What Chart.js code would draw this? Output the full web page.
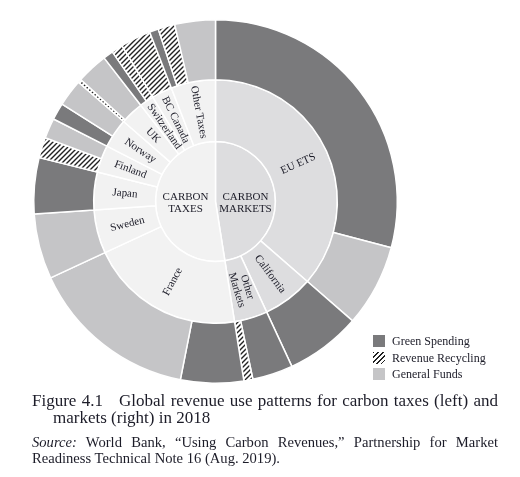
<!DOCTYPE html>
<html>
<head>
<meta charset="utf-8">
<title>Global revenue use patterns 2018</title>
<script src="https://cdn.jsdelivr.net/npm/chart.js@4.4.1/dist/chart.umd.min.js"></script>
<style>
  body { margin: 0; background: #fff; }
  #wrap { position: relative; width: 520px; height: 477px; overflow: hidden;
          font-family: "Liberation Serif", "DejaVu Serif", serif; color: #1c1c28; }
  #chart { position: absolute; left: 0; top: 0; }
  .legend { position: absolute; left: 373px; top: 335px; font-size: 12px; }
  .legend div { height: 16.5px; line-height: 12px; white-space: nowrap; }
  .legend span.sw { display: inline-block; width: 12px; height: 12px; vertical-align: top; margin-right: 7px; }
  .caption { position: absolute; left: 32px; width: 466px; font-size: 17px; line-height: 16.5px; }
  .caption .l1 { text-align: justify; text-align-last: justify; white-space: nowrap; }
  .caption .l2 { padding-left: 21px; }
  .source { position: absolute; left: 32px; width: 466px; top: 434px; font-size: 14.6px; line-height: 16px; }
  .source .l1 { text-align: justify; text-align-last: justify; }
</style>
</head>
<body>
<div id="wrap">
  <canvas id="chart" width="520" height="477"></canvas>
  <div class="legend">
    <div><span class="sw" style="background:#7a7a7c"></span>Green Spending</div>
    <div><span class="sw" style="background:repeating-linear-gradient(135deg,#222 0 1.2px,#fff 1.2px 3.4px)"></span>Revenue Recycling</div>
    <div><span class="sw" style="background:#c5c5c7"></span>General Funds</div>
  </div>
  <div class="caption" style="top:393px">
    <div class="l1">Figure 4.1&nbsp;&nbsp; Global revenue use patterns for carbon taxes (left) and</div>
    <div class="l2">markets (right) in 2018</div>
  </div>
  <div class="source">
    <div class="l1"><i>Source:</i> World Bank, “Using Carbon Revenues,” Partnership for Market</div>
    <div>Readiness Technical Note 16 (Aug. 2019).</div>
  </div>
</div>
<script>
// jurisdictions, clockwise from 12 o'clock
const jurisdictions = ['EU ETS', 'California', 'Other\nMarkets', 'France', 'Sweden', 'Japan',
                       'Finland', 'Norway', 'UK', 'Switzerland', 'BC Canada', 'Other Taxes'];
const instrument    = ['markets', 'markets', 'markets', 'taxes', 'taxes', 'taxes',
                       'taxes', 'taxes', 'taxes', 'taxes', 'taxes', 'taxes'];
const instrumentLabels = ['CARBON\nMARKETS', 'CARBON\nTAXES'];

// share of 2018 carbon pricing revenue (%), by use
const greenSpending    = [29.1, 6.7, 3.6, 5.6, 0,   5.0, 0,   1.5, 0,   0.9, 0,   0.8];
const revenueRecycling = [0,    0,   0.8, 0,   0,   0,   1.8, 0,   0.3, 1.0, 2.7, 1.5];
const generalFunds     = [7.3,  0,   0,   15.0, 5.8, 0,  1.8, 2.4, 2.8, 0,   0,   3.6];

const useNames = ['Green Spending', 'Revenue Recycling', 'General Funds'];

const GREEN = '#7a7a7c';
const GENERAL = '#c5c5c7';
const MARKET_FILL = '#dddddf';
const TAX_FILL = '#f2f2f2';
const TEXT = '#1c1c28';

function makeHatch() {
    const c = document.createElement('canvas');
    c.width = 5; c.height = 5;
    const g = c.getContext('2d');
    g.fillStyle = '#fff';
    g.fillRect(0, 0, 5, 5);
    g.strokeStyle = '#222';
    g.lineWidth = 1.4;
    g.beginPath();
    g.moveTo(-1, 6); g.lineTo(6, -1);
    g.moveTo(-1, 1); g.lineTo(1, -1);
    g.moveTo(4, 6); g.lineTo(6, 4);
    g.stroke();
    return g.createPattern(c, 'repeat');
}
const HATCH = makeHatch();
const useColors = [GREEN, HATCH, GENERAL];

// outer ring: each jurisdiction split by use
const outerValues = [], outerColors = [], outerLabels = [];
jurisdictions.forEach((j, i) => {
    [greenSpending[i], revenueRecycling[i], generalFunds[i]].forEach((v, k) => {
        if (v > 0) {
            outerValues.push(v);
            outerColors.push(useColors[k]);
            outerLabels.push(j + ' - ' + useNames[k]);
        }
    });
});

// middle ring: jurisdiction totals
const jurTotals = jurisdictions.map((j, i) => greenSpending[i] + revenueRecycling[i] + generalFunds[i]);
const jurColors = instrument.map(t => t === 'markets' ? MARKET_FILL : TAX_FILL);

// inner pie: markets vs taxes
const instTotals = ['markets', 'taxes'].map(t =>
    jurTotals.reduce((s, v, i) => s + (instrument[i] === t ? v : 0), 0));

const ringLabels = {
    id: 'ringLabels',
    afterDatasetsDraw(chart) {
        const ctx = chart.ctx;
        ctx.save();
        ctx.font = '11px "Liberation Serif", serif';
        ctx.fillStyle = TEXT;
        ctx.textAlign = 'center';
        ctx.textBaseline = 'middle';

        const drawLines = (text, lh) => {
            const lines = text.split('\n');
            lines.forEach((ln, k) => ctx.fillText(ln, 0, (k - (lines.length - 1) / 2) * lh));
        };

        // jurisdiction names, rotated along the radius
        chart.getDatasetMeta(1).data.forEach((arc, i) => {
            const p = arc.getProps(['x', 'y', 'startAngle', 'endAngle', 'innerRadius', 'outerRadius'], true);
            const a = (p.startAngle + p.endAngle) / 2;
            const r = (p.innerRadius + p.outerRadius) / 2;
            ctx.save();
            ctx.translate(p.x + r * Math.cos(a), p.y + r * Math.sin(a));
            ctx.rotate(a > Math.PI / 2 ? a - Math.PI : a);
            drawLines(jurisdictions[i], 11);
            ctx.restore();
        });

        // centre labels
        chart.getDatasetMeta(2).data.forEach((arc, i) => {
            const p = arc.getProps(['x', 'y', 'startAngle', 'endAngle', 'outerRadius'], true);
            const a = (p.startAngle + p.endAngle) / 2;
            ctx.save();
            ctx.translate(p.x + p.outerRadius * 0.5 * Math.sign(Math.cos(a)), p.y + 2);
            drawLines(instrumentLabels[i], 12);
            ctx.restore();
        });
        ctx.restore();
    }
};

new Chart(document.getElementById('chart'), {
    type: 'doughnut',
    data: {
        labels: outerLabels,
        datasets: [
            { data: outerValues, backgroundColor: outerColors, weight: 60 },
            { data: jurTotals, backgroundColor: jurColors, weight: 62 },
            { data: instTotals, backgroundColor: [MARKET_FILL, TAX_FILL], weight: 60 }
        ]
    },
    options: {
        responsive: false,
        animation: false,
        cutout: 0,
        hoverOffset: 0,
        layout: { padding: { left: 33, right: 122, top: 19, bottom: 93 } },
        elements: { arc: { borderColor: '#fff', borderWidth: 1.5 } },
        plugins: {
            legend: { display: false },
            tooltip: { enabled: false }
        },
        events: []
    },
    plugins: [ringLabels]
});
</script>
</body>
</html>
